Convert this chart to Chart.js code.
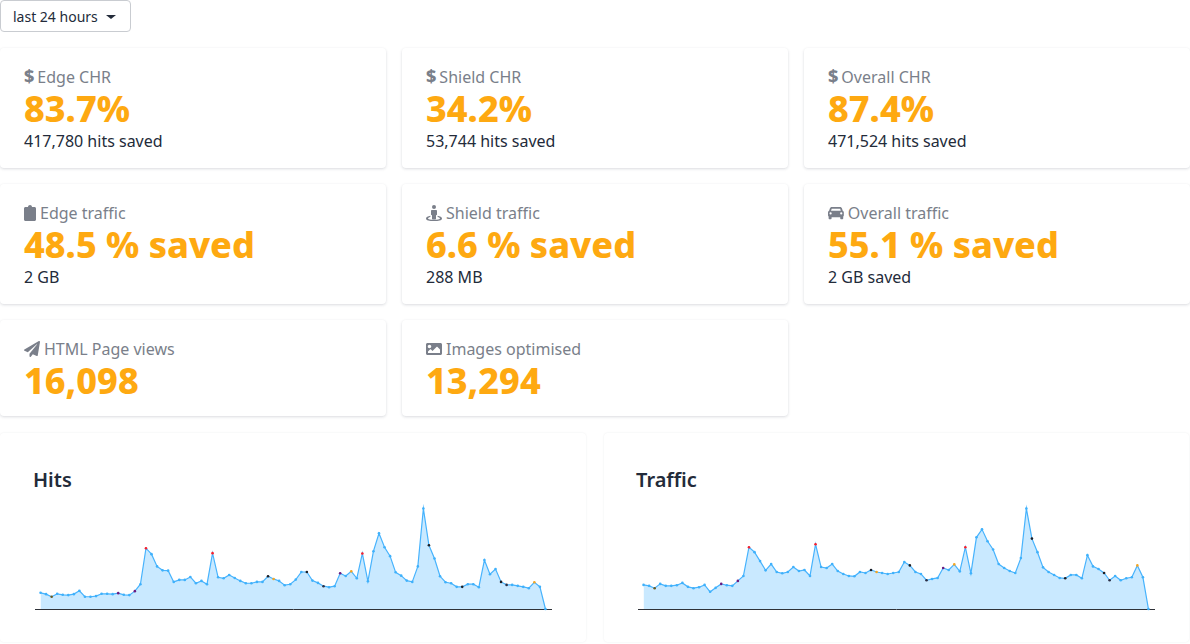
<!DOCTYPE html>
<html><head><meta charset="utf-8">
<script src="https://cdn.jsdelivr.net/npm/chart.js@4"></script>
<style>
html,body{margin:0;padding:0;background:#fff;width:1190px;height:644px;overflow:hidden;font-family:"Noto Sans",sans-serif;color:#232b3a}
.btn{position:absolute;left:0;top:0;width:129px;height:30px;border:1px solid #c9ccd1;border-radius:4px;font-size:14px;line-height:32px;box-sizing:content-box}
.btn span{position:absolute;left:12px;top:0;line-height:32px}
.btn i{position:absolute;left:105px;top:14px;width:0;height:0;border-left:5px solid transparent;border-right:5px solid transparent;border-top:4.5px solid #232b3a}
.card{position:absolute;background:#fff;border-radius:4px;box-shadow:0 1px 3px rgba(30,40,60,.16),0 0 2px rgba(30,40,60,.02);box-sizing:border-box;padding-left:24px}
.t{position:absolute;top:17px;left:24px;font-size:16px;line-height:24px;color:#7a7f8a;white-space:nowrap}
.t svg{height:16px;vertical-align:-2px;fill:#7a7f8a;margin-right:4px}
.t svg.car{height:13px;vertical-align:-1px;margin-right:4px}
.t b{font-weight:800;font-size:18px;line-height:16px;margin-right:3px}
.v{position:absolute;top:37px;left:24px;font-size:36px;line-height:48px;font-weight:800;color:#fea911;white-space:nowrap}
.s{position:absolute;top:81px;left:24px;font-size:16px;line-height:24px;white-space:nowrap}
.pan{position:absolute;top:433px;height:209px;background:#fff;border-radius:4px;box-shadow:0 0 2px rgba(30,40,60,.09)}
.pan h3{position:absolute;left:33px;top:33px;margin:0;font-size:20px;line-height:28px;font-weight:600;color:#232b3a}
canvas{position:absolute}
</style></head><body>
<div class="btn"><span>last 24 hours</span><i></i></div>

<div class="card" style="left:0;top:48px;width:386px;height:120px"><div class="t"><b>$</b>Edge CHR</div><div class="v">83.7%</div><div class="s">417,780 hits saved</div></div>
<div class="card" style="left:402px;top:48px;width:386px;height:120px"><div class="t"><b>$</b>Shield CHR</div><div class="v">34.2%</div><div class="s">53,744 hits saved</div></div>
<div class="card" style="left:804px;top:48px;width:386px;height:120px"><div class="t"><b>$</b>Overall CHR</div><div class="v">87.4%</div><div class="s">471,524 hits saved</div></div>

<div class="card" style="left:0;top:184px;width:386px;height:120px"><div class="t"><svg viewBox="0 0 384 512"><path d="M384 112v352c0 26.5-21.5 48-48 48H48c-26.5 0-48-21.500-48-48V112c0-26.500 21.500-48 48-48h80c0-35.300 28.700-64 64-64s64 28.700 64 64h80c26.500 0 48 21.500 48 48z"/></svg>Edge traffic</div><div class="v">48.5 % saved</div><div class="s">2 GB</div></div>
<div class="card" style="left:402px;top:184px;width:386px;height:120px"><div class="t"><svg viewBox="0 0 512 512"><circle cx="256" cy="64" r="64"/><path d="M192 160h128c18 0 32 14 32 32v112c0 14-10 24-32 24v100c0 18-14 32-32 32h-64c-18 0-32-14-32-32V328c-22 0-32-10-32-24V192c0-18 14-32 32-32z"/><path d="M140 340v40c-50 10-76 28-76 48 0 28 80 44 192 44s192-16 192-44c0-20-26-38-76-48v-40c80 14 140 44 140 88 0 60-110 84-256 84S0 488 0 428c0-44 60-74 140-88z"/></svg>Shield traffic</div><div class="v">6.6 % saved</div><div class="s">288 MB</div></div>
<div class="card" style="left:804px;top:184px;width:386px;height:120px"><div class="t"><svg class="car" viewBox="0 0 512 420"><path d="M120 0h272c26 0 48 18 58 44l26 76c22 8 36 30 36 54v92c0 16-8 30-20 38v60c0 18-14 32-32 32h-32c-18 0-32-14-32-32v-32H116v32c0 18-14 32-32 32H52c-18 0-32-14-32-32v-60C8 296 0 282 0 266v-92c0-24 14-46 36-54l26-76C72 18 94 0 120 0zm0 60l-22 60h316l-22-60zM84 170a36 36 0 1 0 0 72 36 36 0 0 0 0-72zm344 0a36 36 0 1 0 0 72 36 36 0 0 0 0-72z"/></svg>Overall traffic</div><div class="v">55.1 % saved</div><div class="s">2 GB saved</div></div>

<div class="card" style="left:0;top:320px;width:386px;height:96px"><div class="t"><svg viewBox="0 0 512 512"><path d="M476 3.200L12.500 270.600c-18.100 10.400-15.800 35.600 2.200 43.200L121 358.400l287.300-253.200c5.500-4.900 13.300 2.600 8.600 8.300L176 407v80.500c0 23.600 28.500 32.900 42.500 15.800L282 426l124.600 52.200c14.200 6 30.400-2.900 33-18.200l72-432C515 7.800 493.300-6.800 476 3.200z"/></svg>HTML Page views</div><div class="v">16,098</div></div>
<div class="card" style="left:402px;top:320px;width:386px;height:96px"><div class="t"><svg viewBox="0 0 512 512"><path d="M464 448H48c-26.510 0-48-21.490-48-48V112c0-26.510 21.490-48 48-48h416c26.510 0 48 21.490 48 48v288c0 26.510-21.490 48-48 48zM112 120c-30.928 0-56 25.072-56 56s25.072 56 56 56 56-25.072 56-56-25.072-56-56-56zM64 384h384V272l-87.515-87.515c-4.686-4.686-12.284-4.686-16.971 0L208 320l-55.515-55.515c-4.686-4.686-12.284-4.686-16.971 0L64 336v48z"/></svg>Images optimised</div><div class="v">13,294</div></div>

<div class="pan" style="left:0;width:586px"><h3>Hits</h3></div>
<div class="pan" style="left:604px;width:585px"><h3 style="left:32px">Traffic</h3></div>
<canvas id="hits" width="524" height="125" style="left:31px;top:492px;width:524px;height:125px"></canvas>
<canvas id="traffic" width="524" height="125" style="left:634px;top:492px;width:524px;height:125px"></canvas>

<script>
const hitsValues = [49,45,37,46,43,42,45,55,37,37,39,46,46,45,48,43,42,54,75,184,166,129,117,116,82,88,88,97,78,85,75,169,96,93,103,94,85,78,78,82,82,99,91,85,72,75,89,112,112,86,79,69,66,69,108,100,114,93,168,84,175,229,187,160,111,101,86,82,129,304,193,153,99,81,78,67,67,75,75,66,148,105,121,82,73,73,70,67,63,81,67,0];
const trafficValues = [73,70,63,76,70,70,72,79,67,63,66,73,52,64,76,72,70,85,100,187,172,145,117,136,112,108,112,127,115,118,100,196,127,124,136,115,106,100,99,112,109,118,112,109,106,109,112,142,132,112,106,87,91,94,124,118,135,114,187,108,217,241,205,180,136,124,115,109,154,304,213,172,126,112,103,94,93,103,103,93,163,129,121,109,87,100,87,93,96,132,96,0];
const seriesNames = ["Hits","Traffic"];
const redPoints = [19,31,58];
const orangePoints = [42,56,89];
const blackPoints = [41,48,70,76,83];
const darkPoints = [51,84];
const purplePoints = [14,17,54];
const olivePoints = [2];

function pointColour(i){
  if(redPoints.includes(i)) return "#f5202e";
  if(orangePoints.includes(i)) return "#f5a623";
  if(blackPoints.includes(i)) return "#1c1f26";
  if(darkPoints.includes(i)) return "#2c2f45";
  if(purplePoints.includes(i)) return "#6a1b80";
  if(olivePoints.includes(i)) return "#6b5a20";
  return "#3fb1fb";
}
function draw(id,name,values){
  new Chart(document.getElementById(id),{
    type:"line",
    data:{datasets:[{
      label:name,
      data:values.map((v,i)=>({x:i,y:v})),
      borderColor:"#47b3fd",
      backgroundColor:"#c9e9ff",
      borderWidth:1.2,
      fill:"origin",
      tension:0,
      pointRadius:1.3,
      pointBorderWidth:0,
      pointBackgroundColor:values.map((v,i)=>pointColour(i)),
      clip:false
    }]},
    options:{
      responsive:false,animation:false,devicePixelRatio:1,
      layout:{padding:0},
      plugins:{legend:{display:false},tooltip:{enabled:false}},
      scales:{
        x:{type:"linear",min:-1,max:values.length,
          grid:{display:false},
          ticks:{display:false},
          border:{display:true,color:"#2f3238",width:1}},
        y:{display:false,min:0,max:342}
      }
    }
  });
}
draw("hits",seriesNames[0],hitsValues);
draw("traffic",seriesNames[1],trafficValues);
</script>
</body></html>
